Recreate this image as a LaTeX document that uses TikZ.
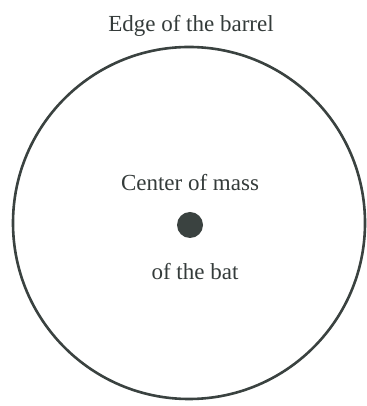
\documentclass[tikz,border=0pt]{standalone}
\usepackage{fontspec}
\setmainfont{Liberation Serif}
\usepackage{xcolor}
\usetikzlibrary{positioning}
\definecolor{ink}{HTML}{3A4240}
\tikzset{
    rim/.style={draw=ink, line width=2.6pt, circle, inner sep=0pt, minimum size=352pt},
    massdot/.style={circle, fill=ink, inner sep=0pt, minimum size=26pt},
    txt/.style={text=ink!90!black, inner sep=0pt, font=\fontsize{23}{26}\selectfont}
}

\begin{document}
\begin{tikzpicture}[x=1pt, y=1pt]
        \useasboundingbox (0,0) rectangle (366,406);
        \node[rim] (barrel) at (189,183) {};
        \node[massdot] (com) at (190,181) {};
        \node[txt] (edge) at (191,380) {Edge of the barrel};
        \node[txt] (top) at (190,223) {Center of mass};
        \node[txt] (bot) at (195,134) {of the bat};
    \end{tikzpicture}
\end{document}
